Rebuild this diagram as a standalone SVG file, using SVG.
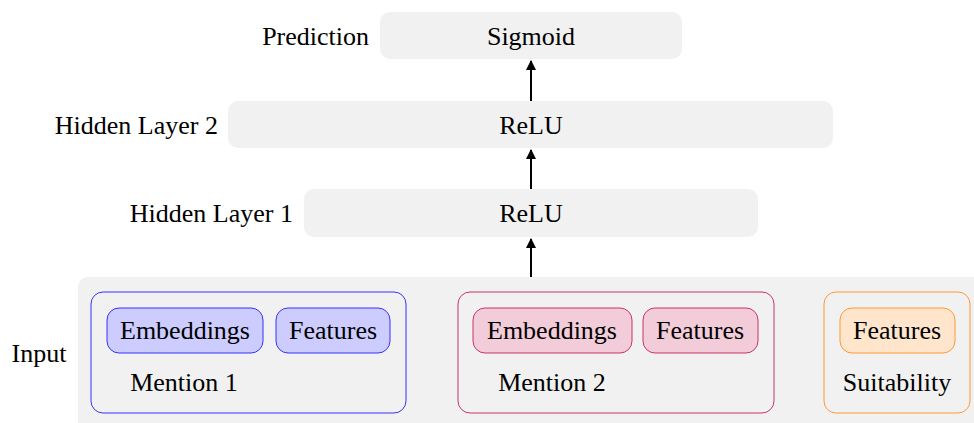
<svg xmlns="http://www.w3.org/2000/svg" width="974" height="423" viewBox="0 0 974 423">
<defs>
<style>
.m{text-anchor:middle;dominant-baseline:central}
.r{text-anchor:end;dominant-baseline:central}
.layer{fill:#f1f1f1}
.blue{fill:#ccccff;stroke:#3333ff;stroke-width:1}
.pink{fill:#f2ccd9;stroke:#cc3366;stroke-width:1}
.orange{fill:#ffe5cc;stroke:#ff9933;stroke-width:1}
.conn{stroke:#000;stroke-width:2;fill:none;marker-end:url(#ah)}
</style>
<marker id="ah" viewBox="0 0 10 10" refX="9" refY="5" markerWidth="5" markerHeight="6" orient="auto" markerUnits="strokeWidth">
<path d="M0,0 L10,5 L0,10 z" fill="#000"/>
</marker>
</defs>
<rect width="974" height="423" fill="#fff"/>
<g font-family="Liberation Serif, Times New Roman, serif" font-size="26" fill="#000">
<g id="prediction">
<rect class="layer" x="380" y="12" width="302" height="47" rx="10"/>
<text class="m" x="531" y="36">Sigmoid</text>
<text class="r" x="369" y="36">Prediction</text>
</g>
<g id="hidden2">
<rect class="layer" x="228" y="101" width="605" height="47" rx="10"/>
<text class="m" x="531" y="125">ReLU</text>
<text class="r" x="218" y="125">Hidden Layer 2</text>
</g>
<g id="hidden1">
<rect class="layer" x="304" y="189" width="454" height="48" rx="10"/>
<text class="m" x="531" y="213">ReLU</text>
<text class="r" x="293" y="213">Hidden Layer 1</text>
</g>
<g id="input">
<rect class="layer" x="78" y="277" width="910" height="160" rx="10"/>
<text class="m" x="39" y="353">Input</text>
</g>
<g id="mention1">
<rect x="91" y="292" width="315" height="121" rx="12" fill="none" stroke="#3333ff"/>
<rect class="blue" x="107" y="308" width="156" height="45" rx="12"/>
<text class="m" x="185" y="330">Embeddings</text>
<rect class="blue" x="276" y="308" width="114" height="45" rx="12"/>
<text class="m" x="333" y="330">Features</text>
<text class="m" x="184" y="382">Mention 1</text>
</g>
<g id="mention2">
<rect x="458" y="292" width="316" height="121" rx="12" fill="none" stroke="#cc3366"/>
<rect class="pink" x="473" y="308" width="159" height="45" rx="12"/>
<text class="m" x="552" y="330">Embeddings</text>
<rect class="pink" x="643" y="308" width="115" height="45" rx="12"/>
<text class="m" x="700" y="330">Features</text>
<text class="m" x="552" y="382">Mention 2</text>
</g>
<g id="suitability">
<rect x="824" y="292" width="146" height="121" rx="12" fill="none" stroke="#ff9933"/>
<rect class="orange" x="840" y="308" width="115" height="45" rx="12"/>
<text class="m" x="897" y="330">Features</text>
<text class="m" x="897" y="382">Suitability</text>
</g>
</g>
<g id="connectors">
<line class="conn" x1="531" y1="277" x2="531" y2="239"/>
<line class="conn" x1="531" y1="189" x2="531" y2="150"/>
<line class="conn" x1="531" y1="101" x2="531" y2="61"/>
</g>
</svg>
